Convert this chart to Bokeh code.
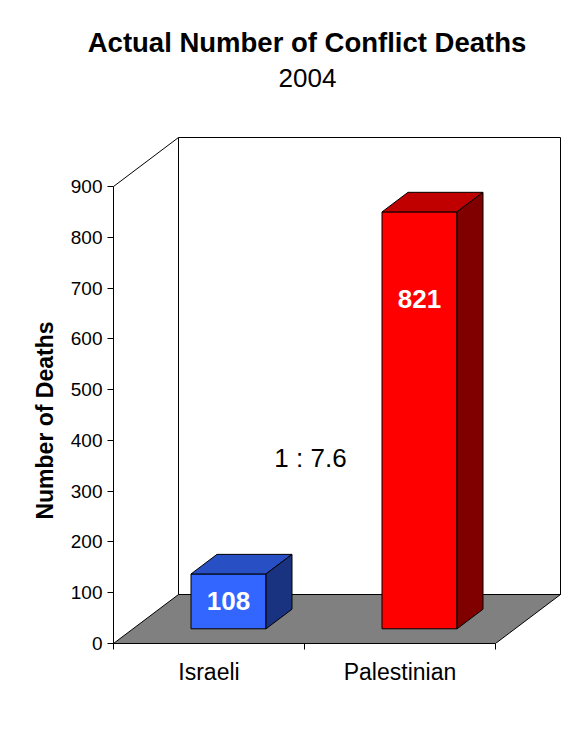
import math
from bokeh.plotting import figure
from bokeh.layouts import column, row
from bokeh.models import Range1d, FixedTicker, LinearAxis
from bokeh.embed import file_html
from bokeh.resources import INLINE
from bokeh.core.properties import value

# ---- data ----
categories = ["Israeli", "Palestinian"]
deaths = [108, 821]
front_colors = ["#3366FF", "#FF0000"]
top_colors = ["#2850C4", "#C00000"]
side_colors = ["#1A3380", "#800000"]
y_ticks = [0, 100, 200, 300, 400, 500, 600, 700, 800, 900]
title_text = "Actual Number of Conflict Deaths"
subtitle_text = "2004"
y_label_text = "Number of Deaths"
value_label_frac = [0.5, 0.79]

FONT = "Liberation Sans"

# ---- page layout (pixels) ----
W, H = 579, 743
TOP_H = 100          # height of the title strip
TOP_PAD = 20         # top border of the title strip
LEFT_W = 60          # width of the y-label strip
FL, FR, FT, FB = 113, 565, 125, 643   # frame of main plot in page pixels

# ---- geometry (pixels -> data units) ----
X_PX = 191.0
Y_PX = 457.0 / 900.0
x_end = (FR - FL) / X_PX
y_end = (FB - FT) / Y_PX
DX = 65.0 / X_PX
DY = 49.0 / Y_PX
BAR_W = 75.0 / X_PX
D0, D1 = 0.3, 0.7
Y_MAX = y_ticks[-1]
N = len(categories)
MAIN_H = H - TOP_H


def blank(width, height, top_b, bottom_b):
    # a plain strip whose data coordinates equal its own pixel coordinates
    f = figure(width=width, height=height,
               x_range=Range1d(0, width), y_range=Range1d(height - bottom_b, top_b),
               output_backend="svg", toolbar_location=None, x_axis_type=None, y_axis_type=None,
               min_border_left=0, min_border_right=0,
               min_border_top=top_b, min_border_bottom=bottom_b)
    f.outline_line_color = None
    f.background_fill_color = "white"
    f.border_fill_color = "white"
    f.xgrid.visible = False
    f.ygrid.visible = False
    return f


# ---- title strip ----
top = blank(W, TOP_H, TOP_PAD, 0)
top.text(x=[306.5], y=[41.5], text=[title_text], text_font=value(FONT), text_font_size="27.5px",
         text_font_style="bold", text_color="black", text_align="center", text_baseline="middle")
top.text(x=[307], y=[77.5], text=[subtitle_text], text_font=value(FONT), text_font_size="26px",
         text_color="black", text_align="center", text_baseline="middle")

# ---- y label strip (same vertical borders as the main plot) ----
left = blank(LEFT_W, MAIN_H, FT - TOP_H, H - FB)
left.text(x=[44], y=[420 - TOP_H], text=[y_label_text], text_font=value(FONT), text_font_size="23px",
          text_font_style="bold", text_color="black", text_align="center", text_baseline="middle",
          angle=math.pi / 2)

# ---- main plot ----
p = figure(width=W - LEFT_W, height=MAIN_H, x_range=Range1d(0, x_end), y_range=Range1d(0, y_end),
           output_backend="svg", toolbar_location=None,
           x_axis_type=None, y_axis_type=None,
           min_border_left=FL - LEFT_W, min_border_right=W - FR,
           min_border_top=FT - TOP_H, min_border_bottom=H - FB)
p.outline_line_color = None
p.background_fill_color = "white"
p.border_fill_color = "white"

# y axis
yax = LinearAxis(ticker=FixedTicker(ticks=y_ticks, minor_ticks=[]))
yax.bounds = (0, Y_MAX)
yax.major_tick_out = 6
yax.major_tick_in = 0
yax.minor_tick_out = 0
yax.major_label_standoff = 5
yax.major_label_text_font = FONT
yax.major_label_text_font_size = "19px"
yax.major_label_text_color = "black"
yax.axis_line_color = "black"
yax.major_tick_line_color = "black"
p.add_layout(yax, "left")

# x axis (categories)
centers = [i + 0.5 for i in range(N)]
overrides = {}
for c, name in zip(centers, categories):
    overrides[c] = name
xax = LinearAxis(ticker=FixedTicker(ticks=centers, minor_ticks=list(range(N + 1))))
xax.bounds = (0, N)
xax.major_label_overrides = overrides
xax.major_tick_out = 0
xax.major_tick_in = 0
xax.minor_tick_out = 6
xax.minor_tick_in = 0
xax.major_label_standoff = 9
xax.major_label_text_font = FONT
xax.major_label_text_font_size = "23px"
xax.major_label_text_color = "black"
xax.axis_line_color = "black"
xax.minor_tick_line_color = "black"
p.add_layout(xax, "below")

# back wall & floor
p.patch(x=[DX, N + DX, N + DX, DX], y=[DY, DY, Y_MAX + DY, Y_MAX + DY],
        fill_color="white", line_color="black", line_width=1)
p.segment(x0=[0], y0=[Y_MAX], x1=[DX], y1=[Y_MAX + DY], line_color="black", line_width=1)
p.patch(x=[0, N, N + DX, DX], y=[0, 0, DY, DY],
        fill_color="#808080", line_color="black", line_width=1)

# bars
fx, fy, tx, ty, sx, sy = [], [], [], [], [], []
lx, ly = [], []
bdx = (D1 - D0) * DX
bdy = (D1 - D0) * DY
for c, v, frac in zip(centers, deaths, value_label_frac):
    x0 = c - BAR_W / 2 + D0 * DX
    x1 = x0 + BAR_W
    y0 = D0 * DY
    y1 = y0 + v
    fx.append([x0, x1, x1, x0]); fy.append([y0, y0, y1, y1])
    tx.append([x0, x1, x1 + bdx, x0 + bdx]); ty.append([y1, y1, y1 + bdy, y1 + bdy])
    sx.append([x1, x1 + bdx, x1 + bdx, x1]); sy.append([y0, y0 + bdy, y1 + bdy, y1])
    lx.append(x0 + BAR_W / 2); ly.append(y0 + v * frac)

p.patches(xs=fx, ys=fy, fill_color=front_colors, line_color="black", line_width=1)
p.patches(xs=tx, ys=ty, fill_color=top_colors, line_color="black", line_width=1)
p.patches(xs=sx, ys=sy, fill_color=side_colors, line_color="black", line_width=1)

p.text(x=lx, y=ly, text=[str(v) for v in deaths], text_color="white",
       text_font=value(FONT), text_font_style="bold", text_font_size="26px",
       text_align="center", text_baseline="middle")

# ratio annotation
ratio = deaths[1] / deaths[0]
p.text(x=[(310 - FL) / X_PX], y=[(FB - 457) / Y_PX], text=[f"1 : {ratio:.1f}"],
       text_font=value(FONT), text_font_size="26px", text_color="black",
       text_align="center", text_baseline="middle")

layout = column(top, row(left, p, spacing=0), spacing=0)
open("out.html", "w").write(file_html(layout, INLINE))
